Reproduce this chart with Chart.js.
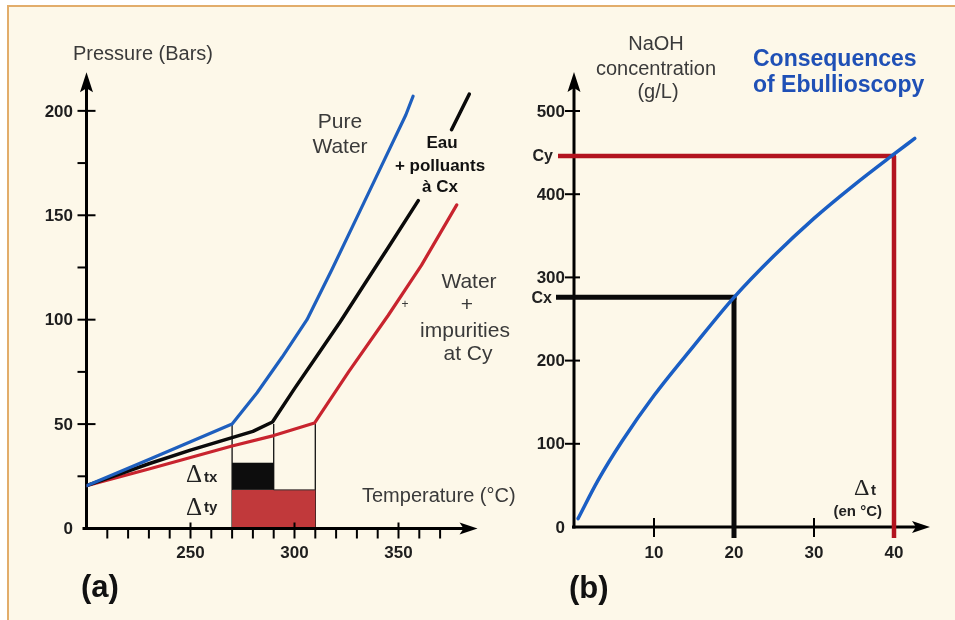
<!DOCTYPE html>
<html><head><meta charset="utf-8">
<script src="https://cdn.jsdelivr.net/npm/chart.js@4.4.1/dist/chart.umd.min.js"></script>
<style>
html,body{margin:0;padding:0;background:#fff;width:955px;height:620px;overflow:hidden;}
#frame{position:absolute;left:7px;top:5px;width:948px;height:615px;background:#fdf8e9;border-left:2px solid #e2ad6b;border-top:2px solid #e2ad6b;box-sizing:border-box;}
canvas{position:absolute;left:0;top:0;}
</style></head><body>
<div id="frame"></div>
<canvas id="ca" width="955" height="620"></canvas>
<canvas id="cb" width="955" height="620"></canvas>
<script>
// ---------- Panel (a): Pressure (bars) vs Temperature (°C) ----------
const pureWaterTemp     = [200, 230, 250, 270, 282, 294, 306, 318, 330, 342, 353.5, 357];
const pureWaterPressure = [20.5, 33, 41.5, 50, 65, 82, 100, 124, 149, 174, 198, 207];

const pollutedTemp      = [200, 230, 250, 270, 280, 289.4, 300, 311, 322, 333, 346, 359.5, 367, 375.5, 384];
const pollutedPressure  = [20.5, 31, 37.5, 43.5, 46.5, 51, 67, 83, 99, 116, 136, 157, null, 191, 208];

const impureTemp        = [200, 230, 250, 270, 290, 309.6, 326, 345, 361, 378];
const impurePressure    = [20.5, 28.5, 34, 39.5, 44.5, 50.5, 75, 102, 126, 155];

const boilingTemps      = [270, 290, 310];
const boilingPressures  = [50, 50, 50];
const deltaTxRange      = [270, 290];
const deltaTxPressure   = [18.5, 31.5];
const deltaTyRange      = [270, 310];
const deltaTyPressure   = [0, 18.5];

const pressureTicks      = [0, 50, 100, 150, 200];
const pressureMinorTicks = [25, 75, 125, 175];
const tempTicks          = [250, 300, 350];
const tempMinorTicks     = [210, 220, 230, 240, 260, 270, 280, 290, 310, 320, 330, 340, 360, 370];

// ---------- Panel (b): NaOH concentration (g/L) vs Δt (°C) ----------
const deltaT      = [0.5, 3, 6, 10, 15, 20, 25, 30, 35, 39.7, 42.6];
const naohConc    = [10, 56, 103, 158, 218, 276, 326, 371, 411, 446, 467];
const concTicks   = [0, 100, 200, 300, 400, 500];
const deltaTicks  = [10, 20, 30, 40];
const cxValue = 276, cyValue = 446;
const txValue = 20,  tyValue = 40;

const SANS = "Arial, 'Liberation Sans', sans-serif";
const SERIF = "'Liberation Serif', 'Times New Roman', serif";

function txt(ctx, s, x, y, font, color, align, baseline) {
  ctx.font = font; ctx.fillStyle = color;
  ctx.textAlign = align || 'left'; ctx.textBaseline = baseline || 'alphabetic';
  ctx.fillText(s, x, y);
}
function seg(ctx, x1, y1, x2, y2) { ctx.beginPath(); ctx.moveTo(x1, y1); ctx.lineTo(x2, y2); ctx.stroke(); }
function arrowUp(ctx, x, tip) {
  ctx.beginPath(); ctx.moveTo(x, tip); ctx.lineTo(x - 6.5, tip + 20); ctx.lineTo(x, tip + 16); ctx.lineTo(x + 6.5, tip + 20); ctx.closePath(); ctx.fill();
}
function arrowRight(ctx, tip, y) {
  ctx.beginPath(); ctx.moveTo(tip, y); ctx.lineTo(tip - 18, y - 6); ctx.lineTo(tip - 14, y); ctx.lineTo(tip - 18, y + 6); ctx.closePath(); ctx.fill();
}

const axisTopA = 218.5, axisRightA = 388;
const plugA = {
  id: 'plugA',
  beforeDatasetsDraw(chart) {
    const {ctx, scales: {x, y}} = chart;
    const X = v => x.getPixelForValue(v), Y = v => y.getPixelForValue(v);
    ctx.save();
    ctx.strokeStyle = '#111'; ctx.lineWidth = 1.3;
    boilingTemps.forEach((t, i) => seg(ctx, X(t), Y(0), X(t), Y(boilingPressures[i])));
    ctx.fillStyle = '#c1393b';
    ctx.fillRect(X(deltaTyRange[0]), Y(deltaTyPressure[1]), X(deltaTyRange[1]) - X(deltaTyRange[0]), Y(deltaTyPressure[0]) - Y(deltaTyPressure[1]));
    ctx.fillStyle = '#0d0d0d';
    ctx.fillRect(X(deltaTxRange[0]), Y(deltaTxPressure[1]), X(deltaTxRange[1]) - X(deltaTxRange[0]), Y(deltaTxPressure[0]) - Y(deltaTxPressure[1]));
    ctx.strokeStyle = '#333'; ctx.lineWidth = 1;
    seg(ctx, X(deltaTxRange[1]), Y(deltaTyPressure[1]), X(deltaTyRange[1]), Y(deltaTyPressure[1]));
    ctx.strokeStyle = '#000'; ctx.fillStyle = '#000'; ctx.lineWidth = 3;
    seg(ctx, X(200), Y(0) + 1.5, X(200), Y(axisTopA) + 10);
    seg(ctx, X(200) - 4, Y(0), X(axisRightA) - 10, Y(0));
    arrowUp(ctx, X(200), Y(axisTopA));
    arrowRight(ctx, X(axisRightA), Y(0));
    ctx.lineWidth = 2;
    pressureTicks.forEach(v => { if (v > 0) seg(ctx, X(200) - 9, Y(v), X(200) + 9, Y(v)); });
    pressureMinorTicks.forEach(v => seg(ctx, X(200) - 9, Y(v), X(200), Y(v)));
    tempTicks.forEach(v => seg(ctx, X(v), Y(0) - 6, X(v), Y(0) + 10));
    tempMinorTicks.forEach(v => seg(ctx, X(v), Y(0), X(v), Y(0) + 10));
    ctx.restore();
  },
  afterDraw(chart) {
    const {ctx, scales: {x, y}} = chart;
    const X = v => x.getPixelForValue(v), Y = v => y.getPixelForValue(v);
    ctx.save();
    pressureTicks.forEach(v => txt(ctx, String(v), 73, Y(v) + 1, 'bold 17px ' + SANS, '#1e1e1e', 'right', 'middle'));
    tempTicks.forEach(v => txt(ctx, String(v), X(v), 553, 'bold 17px ' + SANS, '#1e1e1e', 'center', 'middle'));
    const lab = '#3a3a3a';
    txt(ctx, 'Pressure (Bars)', 73, 60, '20px ' + SANS, lab);
    txt(ctx, 'Temperature (°C)', 362, 502, '20px ' + SANS, lab);
    txt(ctx, 'Pure', 340, 128, '21px ' + SANS, lab, 'center');
    txt(ctx, 'Water', 340, 153, '21px ' + SANS, lab, 'center');
    txt(ctx, 'Eau', 442, 148, 'bold 17px ' + SANS, '#111', 'center');
    txt(ctx, '+ polluants', 440, 171, 'bold 17px ' + SANS, '#111', 'center');
    txt(ctx, 'à Cx', 440, 192, 'bold 17px ' + SANS, '#111', 'center');
    txt(ctx, 'Water', 469, 288, '21px ' + SANS, lab, 'center');
    txt(ctx, '+', 467, 311, '21px ' + SANS, lab, 'center');
    txt(ctx, 'impurities', 465, 337, '21px ' + SANS, lab, 'center');
    txt(ctx, 'at Cy', 468, 360, '21px ' + SANS, lab, 'center');
    txt(ctx, '+', 405, 308, '12px ' + SANS, lab, 'center');
    txt(ctx, 'Δ', 186, 482, '25px ' + SERIF, '#222');
    txt(ctx, 'tx', 204, 482, 'bold 15px ' + SANS, '#222');
    txt(ctx, 'Δ', 186, 515, '25px ' + SERIF, '#222');
    txt(ctx, 'ty', 204, 512, 'bold 15px ' + SANS, '#222');
    txt(ctx, '(a)', 81, 597, 'bold 31px ' + SANS, '#111');
    ctx.restore();
  }
};

const axisTopB = 547, axisRightB = 44.5;
const plugB = {
  id: 'plugB',
  beforeDatasetsDraw(chart) {
    const {ctx, scales: {x, y}} = chart;
    const X = v => x.getPixelForValue(v), Y = v => y.getPixelForValue(v);
    ctx.save();
    ctx.lineCap = 'butt';
    ctx.strokeStyle = '#000'; ctx.fillStyle = '#000'; ctx.lineWidth = 3;
    seg(ctx, X(0), Y(0) + 1.5, X(0), Y(axisTopB) + 10);
    seg(ctx, X(0) - 2, Y(0), X(axisRightB) - 10, Y(0));
    arrowUp(ctx, X(0), Y(axisTopB));
    arrowRight(ctx, X(axisRightB), Y(0));
    ctx.lineWidth = 2;
    concTicks.forEach(v => { if (v > 0) seg(ctx, X(0) - 9, Y(v), X(0) + 6, Y(v)); });
    deltaTicks.forEach(v => seg(ctx, X(v), Y(0) - 9, X(v), Y(0) + 10));
    ctx.strokeStyle = '#0a0a0a'; ctx.lineWidth = 5;
    seg(ctx, X(0) - 18, Y(cxValue), X(txValue) + 2.5, Y(cxValue));
    seg(ctx, X(txValue), Y(cxValue), X(txValue), Y(0) + 11);
    ctx.strokeStyle = '#b3141f'; ctx.lineWidth = 4.5;
    seg(ctx, X(0) - 16, Y(cyValue), X(tyValue) + 2, Y(cyValue));
    seg(ctx, X(tyValue), Y(cyValue), X(tyValue), Y(0) + 11);
    ctx.restore();
  },
  afterDraw(chart) {
    const {ctx, scales: {x, y}} = chart;
    const X = v => x.getPixelForValue(v), Y = v => y.getPixelForValue(v);
    ctx.save();
    concTicks.forEach(v => txt(ctx, String(v), 565, Y(v) + 1, 'bold 17px ' + SANS, '#1e1e1e', 'right', 'middle'));
    deltaTicks.forEach(v => txt(ctx, String(v), X(v), 553, 'bold 17px ' + SANS, '#1e1e1e', 'center', 'middle'));
    txt(ctx, 'Cy', 553, Y(cyValue) + 1, 'bold 16px ' + SANS, '#222', 'right', 'middle');
    txt(ctx, 'Cx', 552, Y(cxValue) + 1, 'bold 16px ' + SANS, '#222', 'right', 'middle');
    const lab = '#3a3a3a';
    txt(ctx, 'NaOH', 656, 50, '20px ' + SANS, lab, 'center');
    txt(ctx, 'concentration', 656, 75, '20px ' + SANS, lab, 'center');
    txt(ctx, '(g/L)', 658, 98, '20px ' + SANS, lab, 'center');
    txt(ctx, 'Consequences', 753, 66, 'bold 23px ' + SANS, '#1f50b6');
    txt(ctx, 'of Ebullioscopy', 753, 92, 'bold 23px ' + SANS, '#1f50b6');
    txt(ctx, 'Δ', 854, 495, '24px ' + SERIF, '#222');
    txt(ctx, 't', 871, 495, 'bold 15px ' + SANS, '#222');
    txt(ctx, '(en °C)', 882, 516, 'bold 15px ' + SANS, '#222', 'right');
    txt(ctx, '(b)', 569, 598, 'bold 31px ' + SANS, '#111');
    ctx.restore();
  }
};

function pts(xs, ys) { return xs.map((v, i) => ({x: v, y: ys[i]})); }
function lineDs(xs, ys, color, w, smooth) {
  return { data: pts(xs, ys), showLine: true, borderColor: color, backgroundColor: color,
           borderWidth: w, pointRadius: 0, tension: 0, spanGaps: false,
           cubicInterpolationMode: smooth ? 'monotone' : 'default',
           borderJoinStyle: 'round', borderCapStyle: 'round' };
}
const common = (pad, xr, yr) => ({
  responsive: false, animation: false, devicePixelRatio: 1,
  layout: { padding: pad },
  plugins: { legend: { display: false }, tooltip: { enabled: false }, title: { display: false } },
  scales: {
    x: { type: 'linear', min: xr[0], max: xr[1], display: false },
    y: { type: 'linear', min: yr[0], max: yr[1], display: false }
  },
  events: []
});

new Chart(document.getElementById('ca'), {
  type: 'scatter',
  data: { datasets: [
    lineDs(pureWaterTemp, pureWaterPressure, '#1e5fbe', 3.2, false),
    lineDs(pollutedTemp, pollutedPressure, '#0a0a0a', 3.5, false),
    lineDs(impureTemp, impurePressure, '#c8242e', 3.2, false)
  ]},
  options: common({left: 86.5, right: 955 - 481.7, top: 69.1, bottom: 620 - 528.5}, [200, 390], [0, 220]),
  plugins: [plugA]
});

new Chart(document.getElementById('cb'), {
  type: 'scatter',
  data: { datasets: [lineDs(deltaT, naohConc, '#1a5ec4', 3.5, true)] },
  options: common({left: 574, right: 955 - 934, top: 69.4, bottom: 620 - 527}, [0, 45], [0, 550]),
  plugins: [plugB]
});
</script>
</body></html>
